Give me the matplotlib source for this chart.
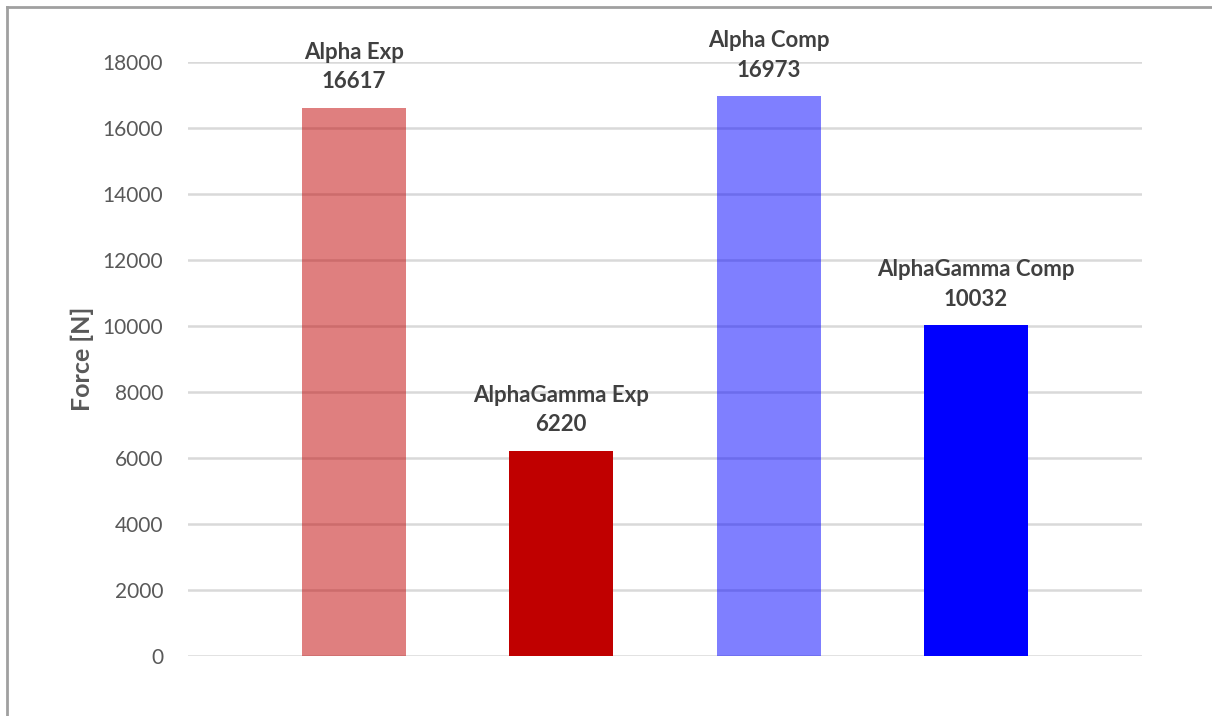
import matplotlib
matplotlib.use("Agg")
import matplotlib.pyplot as plt
from matplotlib.lines import Line2D

plt.rcParams["font.family"] = ["Lato", "DejaVu Sans"]

categories = ["Alpha Exp", "AlphaGamma Exp", "Alpha Comp", "AlphaGamma Comp"]
forces = [16617, 6220, 16973, 10032]
bar_colors = ["#C00000", "#C00000", "#0000FF", "#0000FF"]
bar_alphas = [0.5, 1.0, 0.5, 1.0]
y_ticks = [0, 2000, 4000, 6000, 8000, 10000, 12000, 14000, 16000, 18000]

fig = plt.figure(figsize=(12.12, 7.16), dpi=100)
ax = fig.add_axes([188 / 1212, 1 - 656 / 716, (1142 - 188) / 1212, (656 - 62) / 716])

positions = list(range(len(categories)))
for pos, value, color, alpha in zip(positions, forces, bar_colors, bar_alphas):
    ax.bar(pos, value, width=0.5, color=color, alpha=alpha, zorder=2, linewidth=0)
    ax.annotate(
        f"{categories[pos]}\n{value}",
        xy=(pos, value),
        xytext=(0, 11),
        textcoords="offset points",
        ha="center",
        va="bottom",
        fontsize=16,
        fontweight="bold",
        color="#404040",
        linespacing=1.5,
        annotation_clip=False,
    )

ax.set_xlim(-0.8, 3.8)
ax.set_ylim(0, 18000)
ax.set_yticks(y_ticks)
ax.set_yticklabels([str(t) for t in y_ticks], fontsize=15, color="#595959")
ax.set_xticks([])
ax.tick_params(axis="y", length=0, pad=18)
ax.yaxis.grid(True, color="#D9D9D9", linewidth=1.8, zorder=1)
ax.set_axisbelow(True)
for spine in ax.spines.values():
    spine.set_visible(False)
ax.set_ylabel("Force [N]", fontsize=18, fontweight="bold", color="#595959", labelpad=6)

# outer frame of the chart (top and left edges visible)
fig.add_artist(Line2D([7 / 1212, 7 / 1212], [0, 1 - 7 / 716], transform=fig.transFigure,
                      color="#A0A0A0", linewidth=2))
fig.add_artist(Line2D([7 / 1212, 1], [1 - 7 / 716, 1 - 7 / 716], transform=fig.transFigure,
                      color="#A0A0A0", linewidth=2))

fig.savefig("out.png", dpi=100)
